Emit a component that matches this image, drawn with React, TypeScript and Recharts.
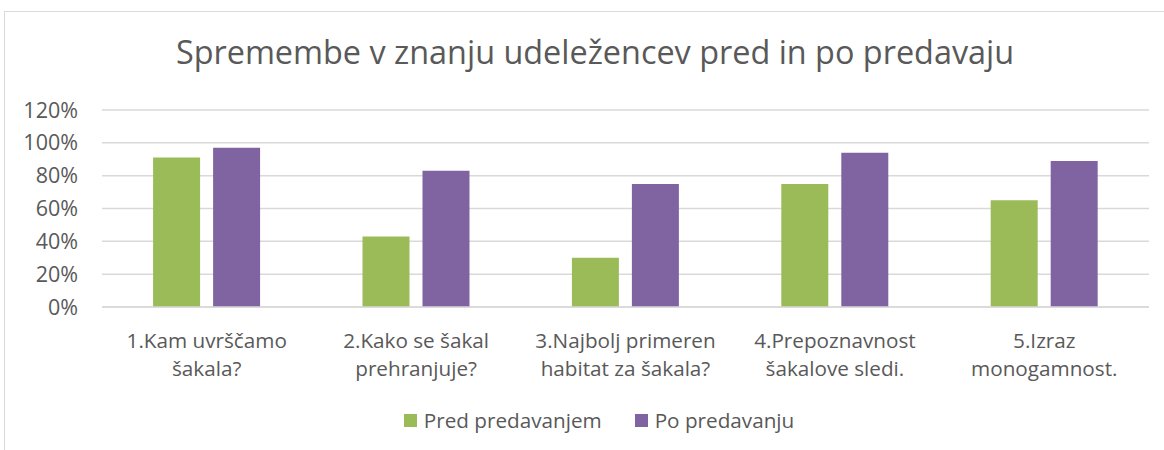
import { Bar, BarChart, CartesianGrid, Legend, XAxis, YAxis } from 'recharts';

const categories = [
  '1.Kam uvrščamo\nšakala?',
  '2.Kako se šakal\nprehranjuje?',
  '3.Najbolj primeren\nhabitat za šakala?',
  '4.Prepoznavnost\nšakalove sledi.',
  '5.Izraz\nmonogamnost.',
];
const before = [91, 43, 30, 75, 65];
const after = [97, 83, 75, 94, 89];
const yTicks = [0, 20, 40, 60, 80, 100, 120];

const series = [
  { key: 'pred', name: 'Pred predavanjem', color: '#9BBB59' },
  { key: 'po', name: 'Po predavanju', color: '#8064A2' },
];

const data = categories.map((name, i) => ({ name, pred: before[i], po: after[i] }));

const FONT = '"Open Sans", "Noto Sans", sans-serif';
const TEXT = '#595959';

function CategoryTick({ x, y, payload }: any) {
  const lines = String(payload.value).split('\n');
  return (
    <text x={x} y={y} textAnchor="middle" fill={TEXT} fontSize={20.7} fontFamily={FONT}>
      {lines.map((l, i) => (
        <tspan key={i} x={x} dy={i === 0 ? 35 : 28}>
          {l}
        </tspan>
      ))}
    </text>
  );
}

function LegendBox() {
  return (
    <div style={{ display: 'flex', justifyContent: 'center', gap: 33, fontFamily: FONT, fontSize: 20.7, color: TEXT }}>
      {series.map((s) => (
        <div key={s.key} style={{ display: 'flex', alignItems: 'center', gap: 7 }}>
          <span style={{ width: 13, height: 13, background: s.color, display: 'inline-block' }} />
          <span>{s.name}</span>
        </div>
      ))}
    </div>
  );
}

export default function App() {
  return (
    <div style={{ position: 'absolute', left: 0, top: 0, width: 1164, height: 450, overflow: 'hidden', background: '#fff' }}>
      <style>{'body{margin:0;overflow:hidden}'}</style>
      <div
        style={{
          position: 'absolute',
          left: 4,
          top: 11,
          width: 1200,
          height: 460,
          border: '1px solid #d9d9d9',
        }}
      />
      <div
        style={{
          position: 'absolute',
          left: 0,
          width: 1190,
          top: 28,
          textAlign: 'center',
          fontFamily: FONT,
          fontSize: 32.4,
          color: TEXT,
          lineHeight: '46px',
        }}
      >
        Spremembe v znanju udeležencev pred in po predavaju
      </div>
      <BarChart
        width={1164}
        height={450}
        data={data}
        margin={{ top: 110, right: 15, bottom: 83, left: 0 }}
        barCategoryGap="24.4%"
        barGap={13}
        style={{ position: 'absolute', left: 0, top: 0 }}
      >
        <CartesianGrid vertical={false} stroke="#d9d9d9" strokeWidth={1.5} />
        <XAxis
          dataKey="name"
          height={60}
          interval={0}
          tickLine={false}
          tickMargin={0}
          tickSize={6}
          axisLine={{ stroke: '#d9d9d9', strokeWidth: 1.5 }}
          tick={<CategoryTick />}
        />
        <YAxis
          width={102}
          domain={[0, 120]}
          ticks={yTicks}
          tickFormatter={(v) => `${v}%`}
          axisLine={false}
          tickLine={false}
          tickMargin={18}
          tick={{ fill: TEXT, fontSize: 21.5, fontFamily: FONT }}
        />
        <Legend
          verticalAlign="middle"
          align="center"
          layout="horizontal"
          content={<LegendBox />}
          wrapperStyle={{ top: 406, left: 0, width: 1198 }}
        />
        {series.map((s) => (
          <Bar key={s.key} dataKey={s.key} name={s.name} fill={s.color} isAnimationActive={false} />
        ))}
      </BarChart>
    </div>
  );
}
